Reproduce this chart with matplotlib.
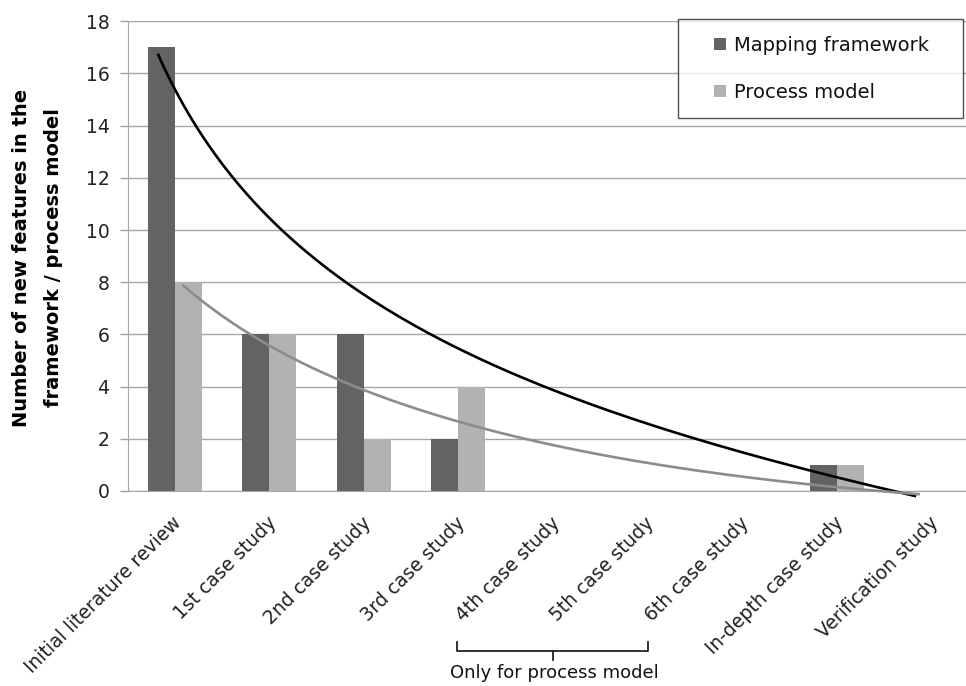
import numpy as np
import matplotlib
matplotlib.use("Agg")
import matplotlib.pyplot as plt
from matplotlib.patches import Rectangle, Patch
from matplotlib.lines import Line2D
from matplotlib.legend_handler import HandlerPatch
import matplotlib.transforms as mtransforms

plt.rcParams['font.family'] = ['DejaVu Sans']

# ---------------- data ----------------
categories = ["Initial literature review", "1st case study", "2nd case study",
              "3rd case study", "4th case study", "5th case study",
              "6th case study", "In-depth case study", "Verification study"]
mapping_framework = [17, 6, 6, 2, np.nan, np.nan, np.nan, 1, 0]
process_model = [8, 6, 2, 4, 0, 0, 0, 1, 0]

# trend curves (x in category units, y in value units)
trend_map_x = [-0.18, 0.22, 0.57, 1.10, 1.87, 2.84, 3.86, 5.13, 6.89, 7.84]
trend_map_y = [16.87, 14.0, 12.0, 10.0, 8.0, 6.0, 4.0, 2.31, 0.52, -0.09]
trend_proc_x = [0.08, 0.28, 0.59, 0.97, 1.90, 2.59, 3.76, 5.13, 6.71, 7.88]
trend_proc_y = [7.87, 7.36, 6.55, 5.53, 4.0, 3.13, 2.0, 1.0, 0.19, -0.09]

y_ticks = [0, 2, 4, 6, 8, 10, 12, 14, 16, 18]
legend_labels = ["Mapping framework", "Process model"]
ylabel_text = "Number of new features in the\nframework / process model"
brace_text = "Only for process model"

# ---------------- figure ----------------
W, H = 966, 686
fig = plt.figure(figsize=(W / 100, H / 100), dpi=100)
ax = fig.add_axes([127.5 / W, 1 - 491 / H, 851 / W, (491 - 21.3) / H])

x = np.arange(len(categories))
bw = 0.285
c_map, c_proc = '#636363', '#b2b2b2'
ax.bar(x - bw / 2, mapping_framework, bw, color=c_map, zorder=2)
ax.bar(x + bw / 2, process_model, bw, color=c_proc, zorder=2)


def trend(xs, ys, shift, n=300):
    """Least-squares smooth trend: a + b*x + c*x^2 + d*ln(x + shift)."""
    xs = np.asarray(xs, float)
    ys = np.asarray(ys, float)

    def basis(v):
        return np.column_stack([np.ones_like(v), v, v ** 2, np.log(v + shift)])

    coef, *_ = np.linalg.lstsq(basis(xs), ys, rcond=None)
    xx = np.linspace(xs[0], xs[-1], n)
    return xx, basis(xx) @ coef


tx, ty = trend(trend_map_x, trend_map_y, 1.2)
ax.plot(tx, ty, color='#000000', lw=1.9, zorder=4, clip_on=False,
        solid_capstyle='butt')
tx, ty = trend(trend_proc_x, trend_proc_y, 2.0)
ax.plot(tx, ty, color='#8c8c8c', lw=1.9, zorder=4, clip_on=False,
        solid_capstyle='butt')

ax.set_xlim(-0.5, len(categories) - 0.5)
ax.set_ylim(0, 18)
ax.set_yticks(y_ticks)
ax.set_yticklabels([str(v) for v in y_ticks], fontsize=13.5, color='#222222')
ax.tick_params(axis='y', length=6, width=1, color='#a0a0a0', pad=7)
ax.set_xticks(x)
ax.set_xticklabels(categories, rotation=45, ha='right', va='center',
                   rotation_mode='anchor', fontsize=13.5, color='#222222')
ax.tick_params(axis='x', length=0, pad=21)
for lab in ax.get_xticklabels():
    lab.set_transform(lab.get_transform() +
                      mtransforms.ScaledTranslation(4 / 100, 0, fig.dpi_scale_trans))

ax.yaxis.grid(True, color='#a6a6a6', linewidth=1, zorder=0)
ax.set_axisbelow(True)
for s in ['top', 'right']:
    ax.spines[s].set_visible(False)
ax.spines['left'].set_color('#a6a6a6')
ax.spines['bottom'].set_color('#a6a6a6')

fig.text(37.5 / W, 1 - 258 / H, ylabel_text, rotation=90, ha='center', va='center',
         multialignment='center', fontsize=14, fontweight='bold',
         color='#000000', linespacing=1.85)


# legend with small squares at the right end of the handle box
class SquareHandler(HandlerPatch):
    def create_artists(self, legend, orig_handle, xdescent, ydescent,
                       width, height, fontsize, trans):
        side = 0.62 * fontsize
        r = Rectangle((width - side - xdescent, (height - side) / 2 - ydescent),
                      side, side, facecolor=orig_handle.get_facecolor(),
                      edgecolor='none', transform=trans)
        return [r]


handles = [Patch(facecolor=c_map), Patch(facecolor=c_proc)]
leg = fig.legend(handles, legend_labels, loc='upper left',
                 bbox_to_anchor=(678 / W, 0, 285 / W, 1 - 19 / H), mode='expand',
                 fontsize=14, frameon=True, fancybox=False, borderpad=0.85,
                 labelspacing=1.45, handlelength=1.64, handletextpad=0.4,
                 handler_map={Patch: SquareHandler()}, borderaxespad=0)
leg.get_frame().set_edgecolor('#222222')
leg.get_frame().set_linewidth(1.0)
for t in leg.get_texts():
    t.set_color('#111111')

# brace under the 4th-6th labels
bt = mtransforms.blended_transform_factory(ax.transData, fig.transFigure)
yb_top, yb_mid, yb_tip = 1 - 641.7 / H, 1 - 650.7 / H, 1 - 660 / H
xl, xm, xr = 2.99, 3.995, 5.005
ax.add_line(Line2D([xl, xl, xr, xr], [yb_top, yb_mid, yb_mid, yb_top],
                   transform=bt, color='#222222', lw=1.3, clip_on=False))
ax.add_line(Line2D([xm, xm], [yb_mid, yb_tip], transform=bt, color='#222222',
                   lw=1.3, clip_on=False))
fig.text(554 / W, 1 - 673 / H, brace_text, ha='center', va='center',
         fontsize=13, color='#111111')

fig.savefig("out.png", dpi=100)
